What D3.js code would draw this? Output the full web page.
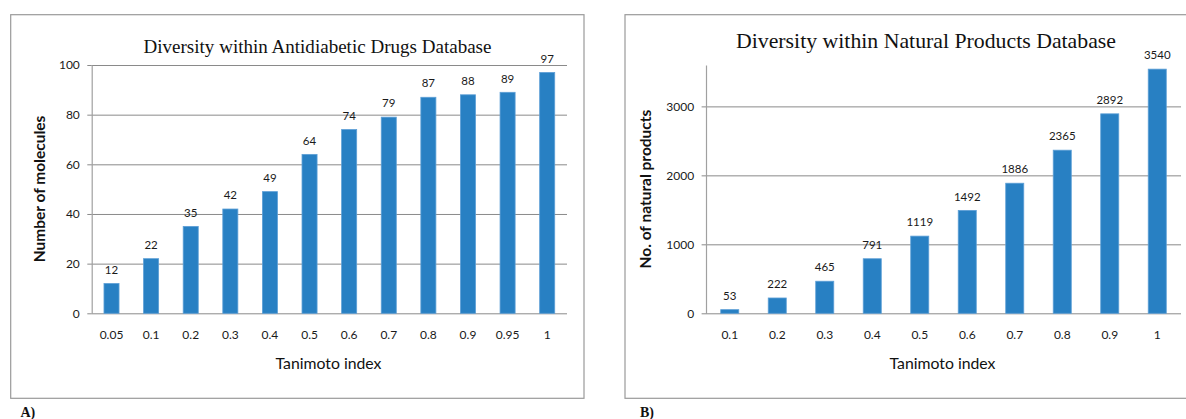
<!DOCTYPE html>
<html><head><meta charset="utf-8">
<script src="https://cdn.jsdelivr.net/npm/d3@7"></script>
<style>body{margin:0;background:#fff}svg{display:block}</style>
</head><body>
<svg id="c" width="1186" height="419"></svg>
<script>
// Panel A data
const catsA = ["0.05","0.1","0.2","0.3","0.4","0.5","0.6","0.7","0.8","0.9","0.95","1"];
const valsA = [12,22,35,42,49,64,74,79,87,88,89,97];
const ticksA = [0,20,40,60,80,100];
// Panel B data
const catsB = ["0.1","0.2","0.3","0.4","0.5","0.6","0.7","0.8","0.9","1"];
const valsB = [53,222,465,791,1119,1492,1886,2365,2892,3540];
const ticksB = [0,1000,2000,3000];

const svg = d3.select("#c");
const SANS = "Lato, 'Open Sans', sans-serif";
const SERIF = "'Liberation Serif', 'DejaVu Serif', serif";
const BAR = "#2880c3";

function panel(o){
  const g = svg.append("g");
  // frame
  g.append("rect").attr("x",o.fx0).attr("y",14.7).attr("width",o.fx1-o.fx0).attr("height",398.3-14.7)
    .attr("fill","none").attr("stroke","#9a9a9a").attr("stroke-width",1.2);
  const x = d3.scaleBand().domain(o.cats).range([o.x0,o.x1]).paddingInner(0.62).paddingOuter(0.31);
  const y = d3.scaleLinear().domain([0,o.max]).range([313.3,65]);
  // grid
  g.append("g").attr("transform",`translate(${o.x0},0)`)
    .call(d3.axisLeft(y).tickValues(o.ticks).tickSize(-(o.x1-o.x0)).tickFormat(""))
    .call(s=>s.select(".domain").remove())
    .call(s=>s.selectAll("line").attr("stroke","#8a8a8a").attr("stroke-width",1));
  // y axis
  const ya = g.append("g").attr("transform",`translate(${o.x0},0)`)
    .call(d3.axisLeft(y).tickValues(o.ticks).tickFormat(d3.format("d")).tickSize(4.4).tickPadding(7.5).tickSizeOuter(0));
  ya.select(".domain").attr("stroke","#a0a0a0").attr("stroke-width",1.2);
  ya.selectAll("line").attr("stroke","#8a8a8a");
  ya.selectAll("text").attr("font-family",SANS).attr("font-size",12).attr("fill","#1a1a1a");
  // bars
  g.selectAll("rect.bar").data(o.vals).join("rect").attr("class","bar")
    .attr("x",(d,i)=>x(o.cats[i])).attr("width",x.bandwidth())
    .attr("y",d=>y(d)).attr("height",d=>y(0)-y(d))
    .attr("fill",BAR).attr("stroke","#5d9fd6").attr("stroke-width",0.8);
  // value labels
  g.selectAll("text.val").data(o.vals).join("text").attr("class","val")
    .attr("x",(d,i)=>x(o.cats[i])+x.bandwidth()/2).attr("y",d=>y(d)-9.8)
    .attr("text-anchor","middle").attr("font-family",SANS).attr("font-size",11.5).attr("fill","#1a1a1a")
    .text(d=>d);
  // x axis labels
  const xa = g.append("g").attr("transform",`translate(0,313.3)`)
    .call(d3.axisBottom(x).tickSize(0).tickPadding(0));
  xa.select(".domain").remove();
  xa.selectAll("text").attr("dy",null).attr("y",25.3).attr("font-family",SANS).attr("font-size",12).attr("fill","#1a1a1a");
  // x title
  g.append("text").attr("x",o.xtx).attr("y",369).attr("text-anchor","middle")
    .attr("font-family",SANS).attr("font-size",15.8).attr("fill","#111").text("Tanimoto index");
  // y title
  g.append("text").attr("transform",`translate(${o.ytx},189) rotate(-90)`).attr("text-anchor","middle")
    .attr("font-family",SANS).attr("font-weight","bold").attr("font-size",o.yts).attr("fill","#111").text(o.ytitle);
  // chart title
  g.append("text").attr("x",o.tx).attr("y",o.ty).attr("text-anchor","middle")
    .attr("font-family",SERIF).attr("font-size",o.tsz).attr("fill","#111")
    .attr("textLength",o.tw).attr("lengthAdjust","spacingAndGlyphs").text(o.title);
  // panel letter
  g.append("text").attr("x",o.lx).attr("y",416.5).attr("font-family","'Liberation Serif', serif")
    .attr("font-weight","bold").attr("font-size",14).attr("fill","#111").text(o.letter);
}

panel({cats:catsA, vals:valsA, ticks:ticksA, max:100, x0:91.7, x1:567, fx0:10.7, fx1:584,
  xtx:328.5, ytx:44.5, yts:15.5, ytitle:"Number of molecules",
  tx:317.5, ty:53.3, tsz:19, tw:348, title:"Diversity within Antidiabetic Drugs Database",
  lx:20.5, letter:"A)"});
panel({cats:catsB, vals:valsB, ticks:ticksB, max:3600, x0:706, x1:1181, fx0:625, fx1:1192,
  xtx:942.5, ytx:650.5, yts:15.5, ytitle:"No. of natural products",
  tx:926, ty:48.3, tsz:21, tw:380, title:"Diversity within Natural Products Database",
  lx:640, letter:"B)"});
</script>
</body></html>
